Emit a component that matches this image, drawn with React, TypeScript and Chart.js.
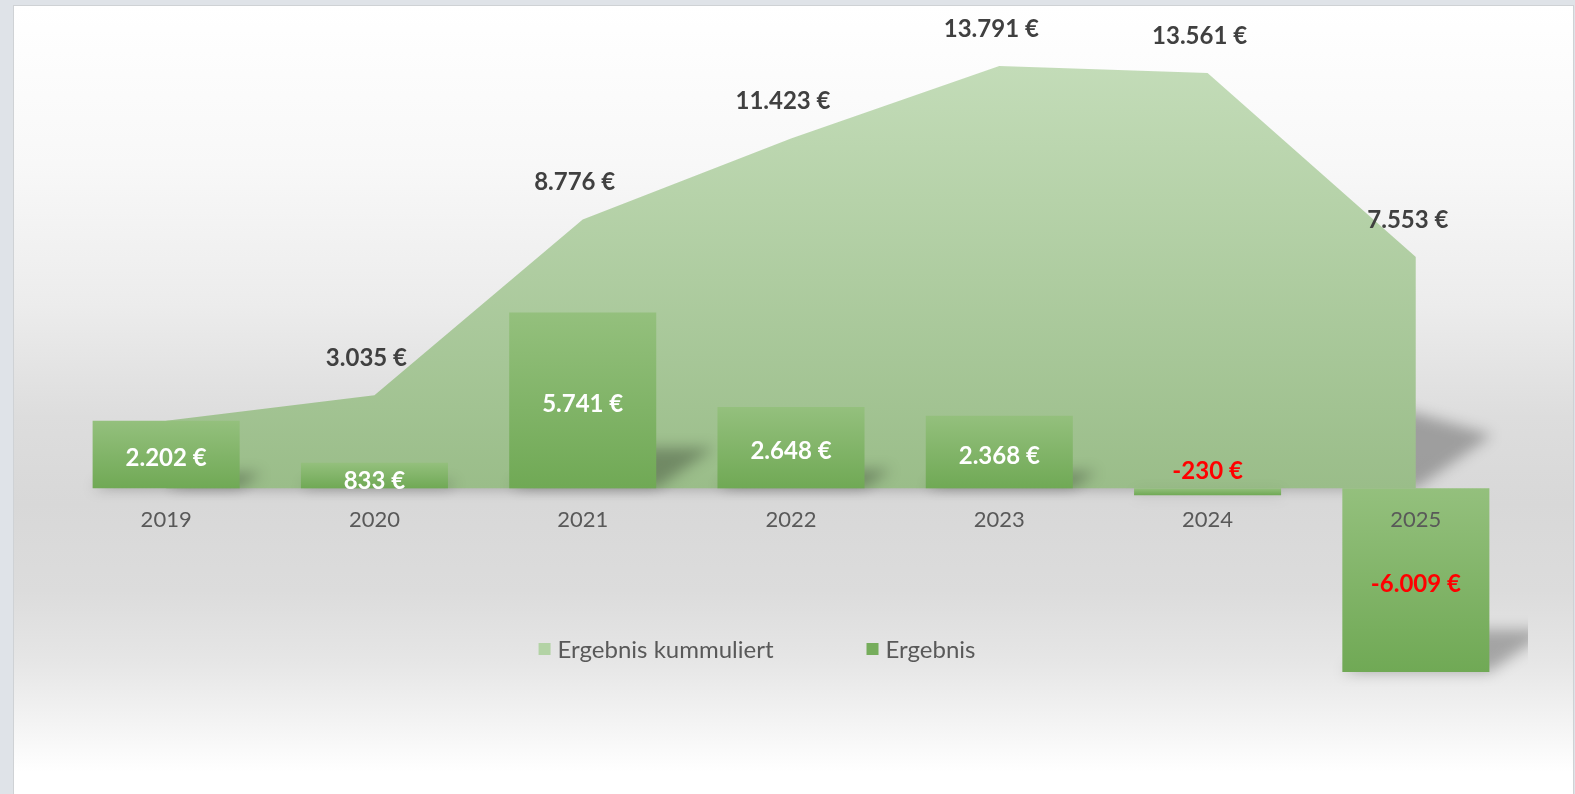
import React, { useEffect, useRef } from "react";
import { Chart, registerables } from "chart.js";

Chart.register(...registerables);

const years = ["2019", "2020", "2021", "2022", "2023", "2024", "2025"];
const ergebnis = [2202, 833, 5741, 2648, 2368, -230, -6009];
const kummuliert = [2202, 3035, 8776, 11423, 13791, 13561, 7553];
const seriesNames = ["Ergebnis kummuliert", "Ergebnis"];

const FONT = "Lato, 'Open Sans', sans-serif";
const W = 1559;
const H = 788;

function fmt(v: number): string {
  const neg = v < 0;
  const s = Math.abs(Math.round(v)).toString().replace(/\B(?=(\d{3})+(?!\d))/g, ".");
  return (neg ? "-" : "") + s + " €";
}

const K = 0.33; // shadow skew
const S = 0.23; // shadow vertical squash

function withShadow(ctx: CanvasRenderingContext2D, y0: number, clipRight: number, draw: () => void) {
  ctx.save();
  ctx.beginPath();
  ctx.rect(0, 0, clipRight, H);
  ctx.clip();
  ctx.filter = "blur(7px)";
  ctx.fillStyle = "rgba(0,0,0,0.28)";
  ctx.transform(1, 0, -K, S, K * y0, (1 - S) * y0);
  ctx.beginPath();
  draw();
  ctx.fill();
  ctx.restore();
}

const shadowPlugin = {
  id: "perspShadow",
  beforeDatasetsDraw(chart: any) {
    const ctx: CanvasRenderingContext2D = chart.ctx;
    const meta = chart.getDatasetMeta(0);
    const zero = chart.scales.y.getPixelForValue(0);
    const clipRight = chart.chartArea.right + 8;
    const pts = meta.data;
    withShadow(ctx, zero, clipRight, () => {
      ctx.moveTo(pts[0].x, zero);
      pts.forEach((p: any) => ctx.lineTo(p.x, p.y));
      ctx.lineTo(pts[pts.length - 1].x, zero);
      ctx.closePath();
    });
  },
  beforeDatasetDraw(chart: any, args: any) {
    const ctx: CanvasRenderingContext2D = chart.ctx;
    const meta = args.meta;
    if (meta.type !== "bar") return;
    const clipRight = chart.chartArea.right + 8;
    meta.data.forEach((bar: any) => {
      const top = Math.min(bar.y, bar.base);
      const bottom = Math.max(bar.y, bar.base);
      const w = bar.width;
      withShadow(ctx, bottom, clipRight, () => {
        ctx.rect(bar.x - w / 2, top, w, bottom - top);
      });
    });
  },
};

const labelPlugin = {
  id: "valueLabels",
  afterDatasetsDraw(chart: any) {
    const ctx: CanvasRenderingContext2D = chart.ctx;
    const zero = chart.scales.y.getPixelForValue(0);
    ctx.save();
    ctx.textAlign = "center";
    ctx.textBaseline = "middle";
    const lineMeta = chart.getDatasetMeta(0);
    ctx.font = `bold 24px ${FONT}`;
    ctx.fillStyle = "#404040";
    lineMeta.data.forEach((p: any, i: number) => {
      if (i === 0) return;
      ctx.fillText(fmt(kummuliert[i]), p.x - 8, p.y - 37);
    });
    const barMeta = chart.getDatasetMeta(1);
    barMeta.data.forEach((b: any, i: number) => {
      const v = ergebnis[i];
      const h = Math.abs(b.base - b.y);
      let y = (b.y + b.base) / 2 + 4;
      if (h < 20 && v < 0) y = zero - 17;
      else if (h < 30) y = zero - 7;
      ctx.fillStyle = v < 0 ? "#ff0000" : "#ffffff";
      ctx.fillText(fmt(v), b.x, y);
    });
    ctx.restore();
  },
};

const legendPlugin = {
  id: "customLegend",
  afterDraw(chart: any) {
    const ctx: CanvasRenderingContext2D = chart.ctx;
    const ca = chart.chartArea;
    const colors = ["#b3d3a5", "#76ad5c"];
    ctx.save();
    ctx.font = `24px ${FONT}`;
    ctx.textBaseline = "middle";
    const box = 12;
    const gapBox = 7;
    const gapItem = 93;
    const widths = seriesNames.map((n) => box + gapBox + ctx.measureText(n).width);
    const total = widths.reduce((a, b) => a + b, 0) + gapItem;
    let x = (ca.left + ca.right) / 2 - 34 - total / 2;
    const y = 643;
    seriesNames.forEach((n, i) => {
      ctx.fillStyle = colors[i];
      ctx.fillRect(x, y - box / 2, box, box);
      ctx.fillStyle = "#595959";
      ctx.textAlign = "left";
      ctx.fillText(n, x + box + gapBox, y + 1);
      x += widths[i] + gapItem;
    });
    ctx.restore();
  },
};

export default function App() {
  const ref = useRef<HTMLCanvasElement | null>(null);

  useEffect(() => {
    if (!ref.current) return;
    const chart = new Chart(ref.current, {
      type: "bar",
      data: {
        labels: years,
        datasets: [
          {
            type: "line",
            label: seriesNames[0],
            data: kummuliert,
            fill: "origin",
            borderWidth: 0,
            borderColor: "rgba(0,0,0,0)",
            pointRadius: 0,
            tension: 0,
            order: 1,
            backgroundColor: (c: any) => {
              const chart = c.chart;
              const y = chart.scales?.y;
              if (!y || !chart.chartArea) return "#aecc9f";
              const g = chart.ctx.createLinearGradient(0, y.getPixelForValue(Math.max(...kummuliert)), 0, y.getPixelForValue(0));
              g.addColorStop(0, "#c3dcb8");
              g.addColorStop(1, "#9abd89");
              return g;
            },
          } as any,
          {
            type: "bar",
            label: seriesNames[1],
            data: ergebnis,
            order: 0,
            borderWidth: 0,
            barPercentage: 0.706,
            categoryPercentage: 1,
            backgroundColor: (c: any) => {
              const chart = c.chart;
              const y = chart.scales?.y;
              if (!y || !chart.chartArea) return "#84b66b";
              const v = ergebnis[c.dataIndex] ?? 0;
              const p1 = y.getPixelForValue(v);
              const p0 = y.getPixelForValue(0);
              const top = Math.min(p0, p1);
              const bot = Math.max(p0, p1);
              const g = chart.ctx.createLinearGradient(0, top, 0, bot + 0.01);
              g.addColorStop(0, "#94c07d");
              g.addColorStop(1, "#70a955");
              return g;
            },
          },
        ],
      },
      options: {
        responsive: false,
        animation: false,
        layout: { padding: { left: 48, right: 53, top: 23, bottom: 61 } },
        plugins: {
          legend: { display: false },
          tooltip: { enabled: false },
          title: { display: false },
        },
        scales: {
          x: {
            position: { y: 0 } as any,
            offset: true,
            grid: { display: false, drawTicks: false },
            border: { display: false },
            ticks: {
              z: 1,
              color: "#595959",
              font: { family: FONT, size: 22 },
              padding: 19,
            } as any,
          },
          y: {
            display: false,
            min: -8000,
            max: 15000,
          },
        },
      },
      plugins: [shadowPlugin, labelPlugin, legendPlugin],
    });
    return () => chart.destroy();
  }, []);

  return (
    <div style={{ position: "fixed", left: 0, top: 0, width: 1575, height: 794, background: "#dfe3e8", overflow: "hidden" }}>
      <div
        style={{
          position: "absolute",
          left: 13,
          top: 5,
          width: W,
          height: H + 2,
          border: "1px solid #cfd2d5",
          background:
            "linear-gradient(to bottom, #ffffff 0%, #f8f8f8 20%, #ececec 38%, #dddddd 52%, #d8d8d8 63%, #dcdcdc 74%, #e6e6e6 83%, #f4f4f4 91%, #ffffff 97%)",
        }}
      >
        <canvas ref={ref} width={W} height={H} style={{ display: "block" }} />
      </div>
    </div>
  );
}
